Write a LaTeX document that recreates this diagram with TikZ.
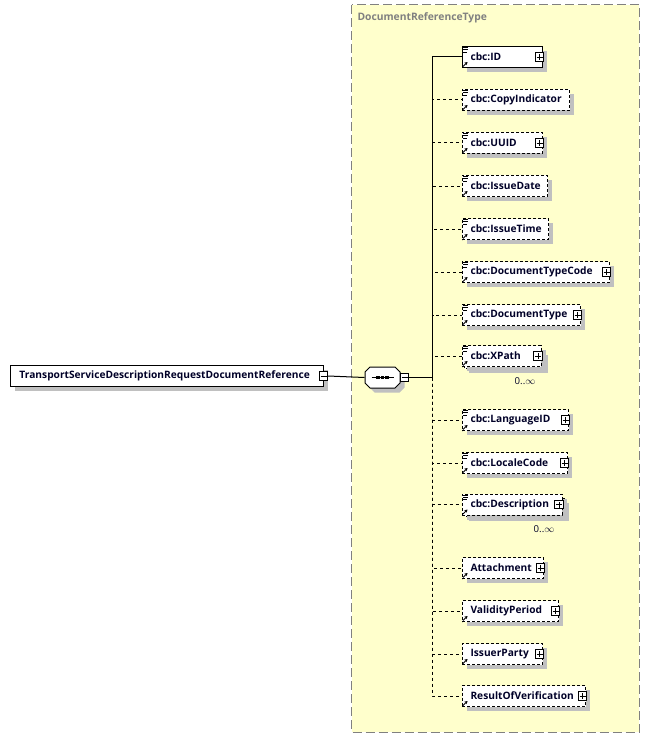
\documentclass[tikz,border=0pt]{standalone}
\usepackage{fontspec}
\setmainfont{Open Sans}
\usetikzlibrary{positioning,shapes.misc,shadows,arrows.meta}

\definecolor{typefill}{RGB}{255,255,204}
\definecolor{typeline}{RGB}{128,128,128}
\definecolor{shadegray}{RGB}{192,192,192}
\definecolor{elemtext}{RGB}{0,0,40}

% element box: name, y, width, text, style
\newcommand\elemnode[5]{%
  \node[#5, minimum width=#3pt] (#1) at (461.5,#2)
    {\makebox[\dimexpr #3pt-17pt\relax][l]{#4}};}
\newcommand\plusof[1]{\node[plus btn] at ([xshift=-3.5pt]#1.east) {};}
\newcommand\refmark[1]{\draw[-{Stealth[length=3pt,width=3.5pt]}, line width=1pt]
  ([shift={(1.5,-1.5)}]#1.south west) -- ++(4.5,-4.5);}
\newcommand\listmark[1]{\draw[line width=0.8pt] ([shift={(1.2,1.6)}]#1.north west)
  -- ++(5.5,0) ++(-5.5,2.2) -- ++(5.5,0) ++(-5.5,2.2) -- ++(4,0);}

\begin{document}
\begin{tikzpicture}[x=1pt, y=-1pt, line width=1pt,
  elem/.style={draw, fill=white, anchor=west, minimum height=21pt, inner xsep=8.5pt,
    inner ysep=0pt, text=elemtext, font=\bfseries\fontsize{10.2}{12}\selectfont,
    drop shadow={fill=shadegray, opacity=1, shadow xshift=4.5pt, shadow yshift=-4.5pt}},
  opt/.style={elem, dash pattern=on 3pt off 2pt},
  plus btn/.style={draw, fill=white, minimum size=8.5pt, inner sep=0pt, line width=0.8pt,
    path picture={\draw[line width=0.8pt]
      ([xshift=-3pt]path picture bounding box.center) -- ([xshift=3pt]path picture bounding box.center)
      ([yshift=-3pt]path picture bounding box.center) -- ([yshift=3pt]path picture bounding box.center);}},
  minus btn/.style={draw, fill=white, minimum size=8.5pt, inner sep=0pt, line width=0.8pt,
    path picture={\draw[line width=0.8pt]
      ([xshift=-3pt]path picture bounding box.center) -- ([xshift=3pt]path picture bounding box.center);}},
  occurs/.style={font=\fontsize{9.6}{11}\selectfont, text=elemtext, inner sep=0pt}]

\useasboundingbox (0,0) rectangle (650,738);

% complex type area
\draw[typeline, fill=typefill, dash pattern=on 9pt off 4pt] (351.5,5) rectangle (639,732);
\node[anchor=west, text=typeline, font=\bfseries\fontsize{10.3}{12}\selectfont, inner sep=0pt]
  (typename) at (357,18) {DocumentReferenceType};

% root element
\node[elem, anchor=west, minimum width=313pt, inner xsep=9pt] (root) at (10,376)
  {\makebox[295pt][l]{TransportServiceDescriptionRequestDocumentReference}};
\node[minus btn] (rootbtn) at ([xshift=-0.5pt]root.east) {};

% sequence
\node[minimum width=35pt, minimum height=21pt, inner sep=0pt] (seq) at (382.5,377.5) {};
\fill[shadegray] ([shift={(4.5,4.5)}]seq.center) ++(-12.5,-10.5) -- ++(25,0) -- ++(5,5)
  -- ++(0,11) -- ++(-5,5) -- ++(-25,0) -- ++(-5,-5) -- ++(0,-11) -- cycle;
\draw[fill=white] (seq.center) ++(-12.5,-10.5) -- ++(25,0) -- ++(5,5)
  -- ++(0,11) -- ++(-5,5) -- ++(-25,0) -- ++(-5,-5) -- ++(0,-11) -- cycle;
\draw (seq.center) ++(-11,0) -- ++(22,0);
\foreach \dx in {-4.5,0,4.5}
  \fill ([shift={(\dx-1.6,-1.6)}]seq.center) rectangle ++(3.2,3.2);
\node[minus btn] (seqbtn) at (404.5,377.5) {};
\coordinate (bus) at (432.5,377.5);

% children
\draw[opt, drop shadow={fill=shadegray, opacity=1, shadow xshift=4.5pt, shadow yshift=-4.5pt}]
  (464.5,350) rectangle (543,368.5);
\draw[opt, drop shadow={fill=shadegray, opacity=1, shadow xshift=4.5pt, shadow yshift=-4.5pt}]
  (464.5,498) rectangle (564,516.5);
\elemnode{id}{57}{80.5}{cbc:ID}{elem}
\elemnode{copyind}{100}{107.5}{cbc:CopyIndicator}{opt}
\elemnode{uuid}{143}{80.5}{cbc:UUID}{opt}
\elemnode{issuedate}{186}{85.5}{cbc:IssueDate}{opt}
\elemnode{issuetime}{229}{86.5}{cbc:IssueTime}{opt}
\elemnode{doctypecode}{272}{147.5}{cbc:DocumentTypeCode}{opt}
\elemnode{doctype}{315}{118.5}{cbc:DocumentType}{opt}
\elemnode{xpath}{356}{79}{cbc:XPath}{opt}
\elemnode{langid}{420}{106.5}{cbc:LanguageID}{opt}
\elemnode{locale}{463}{105.5}{cbc:LocaleCode}{opt}
\elemnode{descr}{504.5}{100}{cbc:Description}{opt}
\elemnode{attach}{568}{81.5}{Attachment}{opt}
\elemnode{validity}{611}{96.5}{ValidityPeriod}{opt}
\elemnode{issuer}{654}{80.5}{IssuerParty}{opt}
\elemnode{result}{696}{123.5}{ResultOfVerification}{opt}

\foreach \n in {id,copyind,uuid,issuedate,issuetime,doctypecode,doctype,xpath,langid,locale,descr}
  {\listmark{\n}}
\foreach \n in {id,copyind,uuid,issuedate,issuetime,doctypecode,doctype,xpath,langid,locale,descr,attach,validity,issuer,result}
  {\refmark{\n}}
\foreach \n in {id,uuid,doctypecode,doctype,xpath,langid,locale,descr,attach,validity,issuer,result}
  {\plusof{\n}}

\node[occurs] (xpathocc) at (525,381) {0..$\infty$};
\node[occurs] (descrocc) at (544,529) {0..$\infty$};

% connectors
\draw (rootbtn.east) -- (seq.west);
\draw (seqbtn.east) -- (bus);
\draw (bus) |- (id.west);
\foreach \n in {copyind,uuid,issuedate,issuetime,doctypecode,doctype,xpath,langid,locale,descr,attach,validity,issuer,result}
  \draw[dash pattern=on 3pt off 3pt] (bus) |- (\n.west);
\end{tikzpicture}
\end{document}
